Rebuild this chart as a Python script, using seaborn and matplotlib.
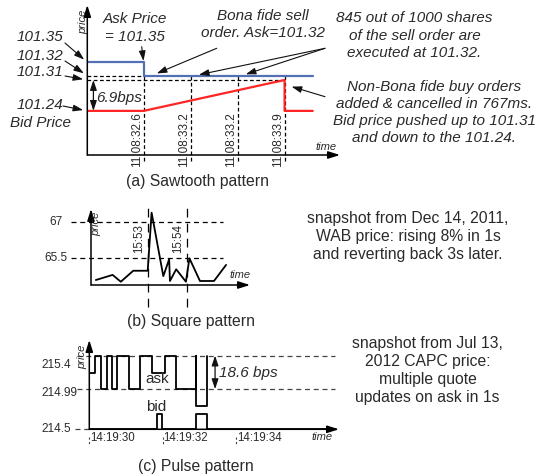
import matplotlib
matplotlib.use("Agg")
import matplotlib.pyplot as plt
import seaborn as sns

# (a) sawtooth pattern, schematic positions along the time axis
saw_ask_t = [0.0, 1.2, 4.8]
saw_ask_p = [101.35, 101.32, 101.32]
saw_bid_t = [0.0, 1.2, 4.2, 4.2, 4.8]
saw_bid_p = [101.24, 101.24, 101.31, 101.24, 101.24]
saw_event_t = [1.2, 2.2, 3.2, 4.2]
saw_event_lbl = ["11:08:32.6", "11:08:33.2", "11:08:33.2", "11:08:33.9"]
saw_levels = [101.35, 101.32, 101.31, 101.24]
saw_level_lbl = ["101.35", "101.32", "101.31", "101.24"]

# (b) square pattern, minutes after 15:53
sq_t = [-1.33, -0.90, -0.69, -0.37, 0.0, 0.10, 0.40, 0.55, 0.57, 0.73, 0.98, 1.07, 1.34, 1.70, 2.01]
sq_p = [64.61, 64.82, 64.54, 64.99, 64.99, 67.37, 64.77, 65.46, 64.57, 65.05, 64.54, 65.50, 64.57, 64.57, 65.23]
sq_marks = [0, 1]
sq_mark_lbl = ["15:53", "15:54"]
sq_levels = [67, 65.5]
sq_level_lbl = ["67", "65.5"]

# (c) pulse pattern, seconds after 14:19:00
pu_ask_t = [30.0, 30.15, 30.31, 30.47, 30.61, 30.76, 31.07, 31.38, 31.70, 32.06, 32.37, 32.90, 32.90, 33.21]
pu_ask_p = [215.19, 215.4, 214.99, 215.4, 214.99, 215.4, 214.99, 215.4, 215.19, 215.4, 214.99, 215.4, 214.79, 215.4]
pu_bid_t = [30.0, 31.83, 31.98, 32.90, 33.21, 36.68]
pu_bid_p = [214.5, 214.69, 214.5, 214.69, 214.5, 214.5]
pu_ticks = [30, 32, 34]
pu_tick_lbl = ["14:19:30", "14:19:32", "14:19:34"]
pu_levels = [215.4, 214.99, 214.5]
pu_level_lbl = ["215.4", "214.99", "214.5"]

sns.set_theme(style="white")
plt.rcParams["font.family"] = ["Liberation Sans", "DejaVu Sans"]

W, H = 538, 476
fig = plt.figure(figsize=(W / 100, H / 100), dpi=100)
fig.patch.set_facecolor("white")

TXT = "#2a2a2a"
BLUE = "#5470b4"
RED = "#ff2525"
DASH = (0, (3, 2))


def box(l, t, r, b):
    return [l / W, 1 - b / H, (r - l) / W, (b - t) / H]


def fp(x, y):
    return (x / W, 1 - y / H)


def label(x, y, s, size=11, italic=False, **kw):
    kw.setdefault("ha", "center")
    kw.setdefault("va", "center")
    fig.text(x / W, 1 - y / H, s, fontsize=size, color=TXT,
             style="italic" if italic else "normal", **kw)


def axis_arrows(ax):
    kw = dict(arrowstyle="-|>,head_length=0.7,head_width=0.22", color="black", lw=1.1,
              shrinkA=0, shrinkB=0, mutation_scale=10)
    ax.annotate("", xy=(0, 1), xytext=(0, 0), xycoords="axes fraction", arrowprops=kw)
    ax.annotate("", xy=(1, 0), xytext=(0, 0), xycoords="axes fraction", arrowprops=kw)


def pointer(ax, xy, start, shrink=2):
    props = dict(arrowstyle="-|>,head_length=0.6,head_width=0.2", color="#111", lw=0.8,
                 shrinkA=0, shrinkB=shrink, mutation_scale=10)
    ax.annotate("", xy=xy, xytext=fp(*start), textcoords="figure fraction",
                arrowprops=props, annotation_clip=False)


def span(ax, x, y0, y1):
    props = dict(arrowstyle="<|-|>,head_length=0.6,head_width=0.2", color="#111", lw=0.9,
                 shrinkA=0, shrinkB=0, mutation_scale=10)
    ax.annotate("", xy=(x, y1), xytext=(x, y0), arrowprops=props, annotation_clip=False)


# ---------- (a) sawtooth ----------
ax = fig.add_axes(box(87.3, 5, 340, 155))
ax.set_axis_off()
ax.hlines(saw_levels[1], 0, saw_event_t[0], colors="black", lw=0.9, linestyles=DASH)
ax.hlines(saw_levels[2], 0, saw_event_t[-1], colors="black", lw=0.9, linestyles=DASH)
ax.vlines(saw_event_t, 101.126, saw_levels[1], colors="black", lw=0.9, linestyles=DASH, clip_on=False)
sns.lineplot(x=saw_ask_t, y=saw_ask_p, ax=ax, color=BLUE, lw=1.6, drawstyle="steps-post",
             estimator=None, sort=False)
sns.lineplot(x=saw_bid_t, y=saw_bid_p, ax=ax, color=RED, lw=1.6, estimator=None, sort=False)
ax.set_xlim(0, 5.38)
ax.set_ylim(101.14, 101.48)
axis_arrows(ax)
for t, s in zip(saw_event_t, saw_event_lbl):
    ax.text(t - 0.02, -0.08, s, transform=ax.get_xaxis_transform(), rotation=90,
            ha="right", va="bottom", fontsize=8.5, color=TXT)

for (lx, ly), lvl, s in zip([(40, 36.7), (40, 56), (40, 71.7), (40, 105.3)], saw_levels, saw_level_lbl):
    label(lx, ly, s, size=11, italic=True)
for start, lvl in zip([(65, 43), (65, 61), (65, 76), (63, 106)], saw_levels):
    pointer(ax, (0, lvl), start, shrink=3)
label(40, 123.3, "Bid Price", size=11, italic=True)
label(83, 22, "price", size=8, italic=True, rotation=90)
label(326.5, 146.7, "time", size=8, italic=True)

label(135, 28, "Ask Price\n= 101.35", size=11, italic=True, linespacing=1.3)
pointer(ax, (saw_ask_t[1], saw_ask_p[0]), (141.7, 46.7), shrink=1)
span(ax, 0.13, saw_levels[3], saw_levels[2])
label(96, 98.3, "6.9bps", size=11, italic=True, ha="left")

label(263, 24.5, "Bona fide sell\norder. Ask=101.32", size=11, italic=True, linespacing=1.3)
pointer(ax, (1.37, saw_levels[1]), (216.7, 48.3), shrink=4)
label(414.5, 35.8, "845 out of 1000 shares\nof the sell order are\nexecuted at 101.32.",
      size=11, italic=True, linespacing=1.3)
pointer(ax, (2.29, saw_levels[1]), (325, 48.3), shrink=3)
pointer(ax, (3.29, saw_levels[1]), (325, 48.3), shrink=3)
label(434.5, 112.5, "Non-Bona fide buy orders\nadded & cancelled in 767ms.\n"
      "Bid price pushed up to 101.31\nand down to the 101.24.",
      size=11, italic=True, linespacing=1.3)
pointer(ax, (4.35, 101.295), (325, 96.7), shrink=0)
label(197, 181.7, "(a) Sawtooth pattern", size=11.3)

# ---------- (b) square ----------
ax = fig.add_axes(box(91, 209, 250, 285))
ax.set_axis_off()
ax.hlines(sq_levels, -1.97, 1.92, colors="black", lw=0.9, linestyles=(0, (4, 3)), clip_on=False)
ax.vlines(sq_marks, -0.29, 1.01, transform=ax.get_xaxis_transform(), colors="black", lw=0.9,
          linestyles=(0, (7, 5)), clip_on=False)
sns.lineplot(x=sq_t, y=sq_p, ax=ax, color="black", lw=1.3, estimator=None, sort=False)
ax.set_xlim(-1.454, 2.623)
ax.set_ylim(64.406, 67.52)
axis_arrows(ax)
for t, s in zip(sq_marks, sq_mark_lbl):
    ax.text(t - 0.07, 0.42, s, transform=ax.get_xaxis_transform(), rotation=90,
            ha="right", va="bottom", fontsize=8.3, color=TXT)
for lvl, s in zip(sq_levels, sq_level_lbl):
    ax.text(-0.22, lvl, s, transform=ax.get_yaxis_transform(), ha="center", va="center",
            fontsize=8.5, color=TXT)
label(96.5, 224, "price", size=8, italic=True, rotation=90)
label(240, 275, "time", size=8, italic=True)
label(191.3, 321.7, "(b) Square pattern", size=11.3)
label(408, 237, "snapshot from Dec 14, 2011,\nWAB price: rising 8% in 1s\nand reverting back 3s later.",
      size=11.3, linespacing=1.25)

# ---------- (c) pulse ----------
ax = fig.add_axes(box(89.3, 340, 339, 429.3))
ax.set_axis_off()
ax.hlines(pu_levels[:2], 29.66, 36.68, colors="#444", lw=0.9, linestyles=(0, (4, 3)), clip_on=False)
ax.hlines(pu_levels[2], 29.60, 30.0, colors="#444", lw=0.9, linestyles=(0, (4, 3)), clip_on=False)
sns.lineplot(x=pu_ask_t, y=pu_ask_p, ax=ax, color="black", lw=1.3, drawstyle="steps-post",
             estimator=None, sort=False)
sns.lineplot(x=pu_bid_t, y=pu_bid_p, ax=ax, color="black", lw=1.3, drawstyle="steps-post",
             estimator=None, sort=False)
ax.vlines(pu_ticks, -0.09, -0.18, transform=ax.get_xaxis_transform(), colors="#444", lw=0.8,
          linestyles=(0, (2, 2)), clip_on=False)
ax.set_xlim(30, 36.79)
ax.set_ylim(214.5, 215.59)
axis_arrows(ax)
for t, s in zip(pu_ticks, pu_tick_lbl):
    ax.text(t + 0.02, -0.1, s, transform=ax.get_xaxis_transform(), ha="left", va="center",
            fontsize=8.3, color=TXT)
for lvl, s, dy in zip(pu_levels, pu_level_lbl, [-7, -3, 0]):
    ax.annotate(s, xy=(-0.19, lvl), xycoords=ax.get_yaxis_transform(), xytext=(0, dy),
                textcoords="offset points", ha="left", va="center", fontsize=8.5, color=TXT,
                annotation_clip=False)
span(ax, 33.42, pu_levels[1], pu_levels[0])
label(82, 357, "price", size=8, italic=True, rotation=90)
label(322.5, 437, "time", size=8, italic=True)
label(156.8, 379.3, "ask", size=11)
label(156.3, 406.7, "bid", size=11)
label(219.3, 373.3, "18.6 bps", size=11, italic=True, ha="left")
label(195.8, 466, "(c) Pulse pattern", size=11.3)
label(427.5, 370.3, "snapshot from Jul 13,\n2012 CAPC price:\nmultiple quote\nupdates on ask in 1s",
      size=11.3, linespacing=1.25)

fig.savefig("out.png", dpi=100, facecolor="white")
